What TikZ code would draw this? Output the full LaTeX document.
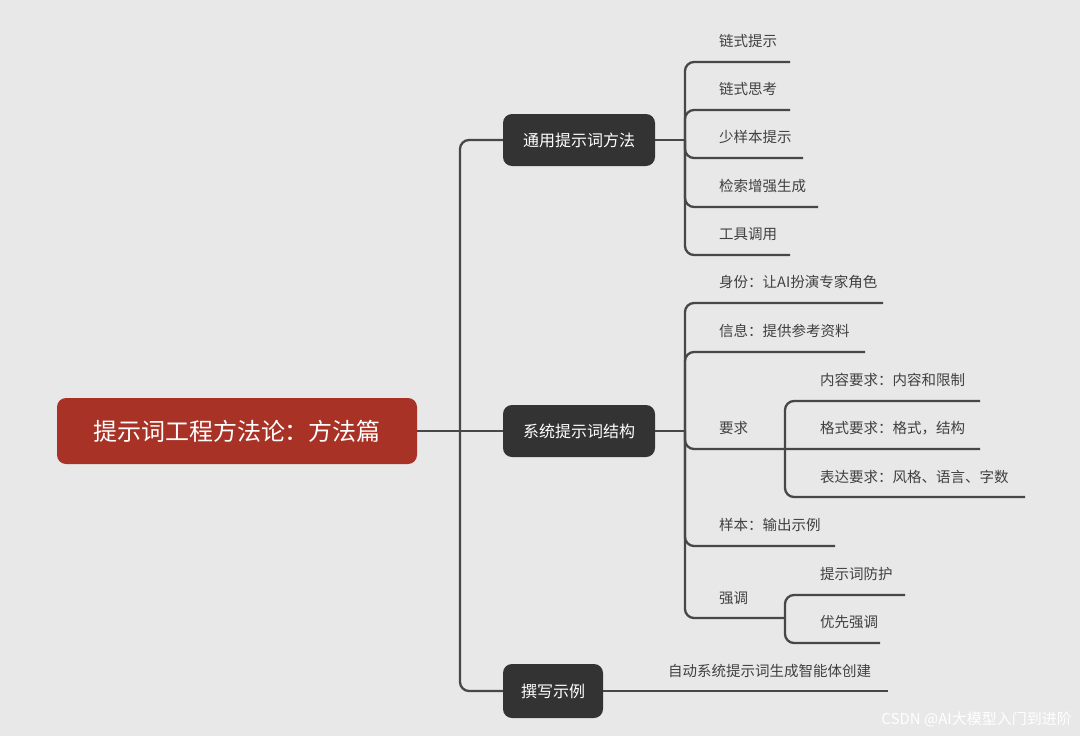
\documentclass[tikz,border=0pt]{standalone}
\usepackage{fontspec}
\setmainfont{Noto Sans CJK SC}
\begin{document}
\begin{tikzpicture}[x=1pt,y=-1pt,
  ln/.style={draw=black!72,line width=2.3pt,rounded corners=9pt},
  leaf/.style={anchor=west,font=\fontsize{14.5}{16}\selectfont,text=black!75,inner sep=0pt},
  topic/.style={fill=black!80,text=white,rounded corners=9pt,font=\fontsize{16}{18}\selectfont,inner sep=0pt,minimum height=52pt}]
\fill[black!9] (0,0) rectangle (1080,736);
\useasboundingbox (0,0) rectangle (1080,736);
% root
\node[fill={rgb,255:red,168;green,50;blue,38},text=white,rounded corners=9pt,minimum width=360pt,minimum height=66pt,font=\fontsize{24}{28}\selectfont,inner sep=0pt] (root) at (237,431) {提示词工程方法论：方法篇};
\node[topic,minimum width=152pt] (t1) at (579,140) {通用提示词方法};
\node[topic,minimum width=152pt] (t2) at (579,431) {系统提示词结构};
\node[topic,minimum width=100pt,minimum height=54pt] (t3) at (553,691) {撰写示例};
\coordinate (bj) at (460,431);
\draw[ln] (root.east) -- (t2.west);
\draw[ln] (t1.west) -- (460,140) -- (460,691) -- (t3.west);
% group 1
\draw[ln,rounded corners=0] (t1.east) -- (685,140);
\foreach \y/\e/\t/\n in {62/790/链式提示/a1,110/790/链式思考/a2,158/803/少样本提示/a3,207/818/检索增强生成/a4,255/790/工具调用/a5}{
  \node[leaf] (\n) at (719,\y-21) {\t};
  \draw[ln] (\e,\y) -- (685,\y) -- (685,140);
}
% group 2
\draw[ln,rounded corners=0] (t2.east) -- (685,431);
\foreach \y/\e/\t/\n in {303/883/身份：让AI扮演专家角色/b1,352/865/信息：提供参考资料/b2,449/980/要求/b3,546/835/样本：输出示例/b4,618/785/强调/b5}{
  \draw[ln] (\e,\y) -- (685,\y) -- (685,431);
}
\node[leaf] (b1) at (719,282) {身份：让AI扮演专家角色};
\node[leaf] (b2) at (719,331) {信息：提供参考资料};
\node[leaf] (b3) at (719,428) {要求};
\node[leaf] (b4) at (719,525) {样本：输出示例};
\node[leaf] (b5) at (719,598) {强调};
% sub of 要求
\foreach \y/\e in {401/980,497/1025}{
  \draw[ln] (\e,\y) -- (785,\y) -- (785,449);
}
\node[leaf] (c1) at (820,380) {内容要求：内容和限制};
\node[leaf] (c2) at (820,428) {格式要求：格式，结构};
\node[leaf] (c3) at (820,477) {表达要求：风格、语言、字数};
% sub of 强调
\foreach \y/\e in {595/905,643/880}{
  \draw[ln] (\e,\y) -- (785,\y) -- (785,618);
}
\node[leaf] (d1) at (820,574) {提示词防护};
\node[leaf] (d2) at (820,622) {优先强调};
% group 3
\draw[ln,rounded corners=0] (t3.east) -- (888,691);
\node[leaf] (e1) at (668,671) {自动系统提示词生成智能体创建};
\node[anchor=east,text=white,font=\fontsize{15}{17}\selectfont,inner sep=0pt] (wm) at (1072,719) {CSDN @AI大模型入门到进阶};
\end{tikzpicture}
\end{document}
